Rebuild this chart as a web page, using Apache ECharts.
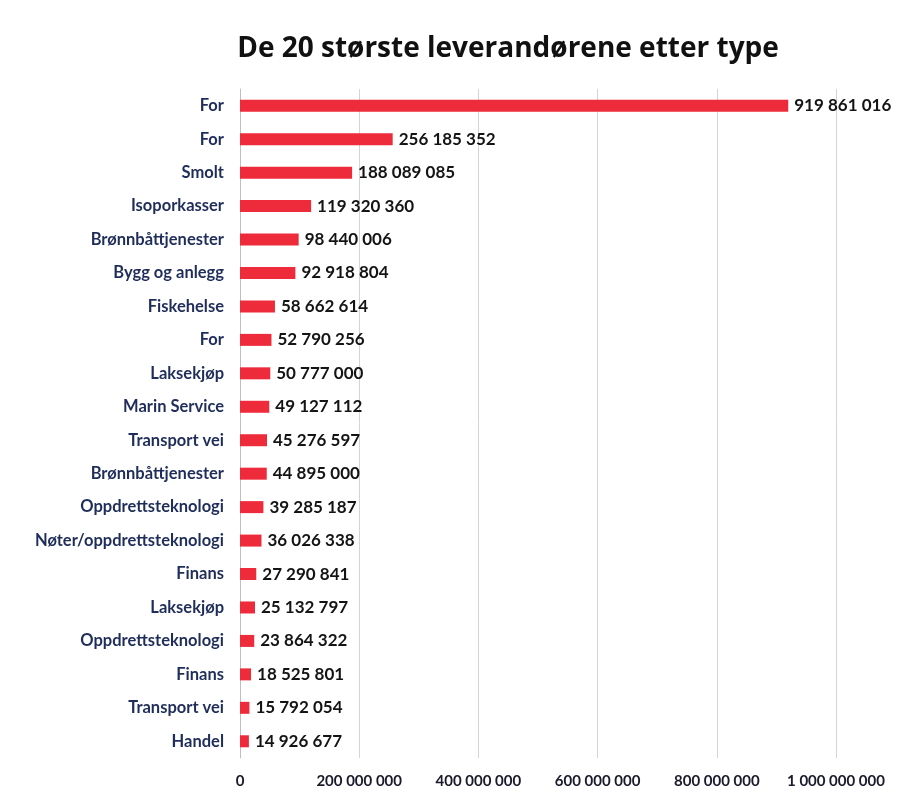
<!DOCTYPE html>
<html><head><meta charset="utf-8">
<script src="https://cdn.jsdelivr.net/npm/echarts@6/dist/echarts.min.js"></script>
<style>html,body{margin:0;padding:0;background:#fff}#c{width:910px;height:795px}</style>
</head><body><div id="c"></div>
<script>
const categories = ["For","For","Smolt","Isoporkasser","Brønnbåttjenester","Bygg og anlegg","Fiskehelse","For","Laksekjøp","Marin Service","Transport vei","Brønnbåttjenester","Oppdrettsteknologi","Nøter/oppdrettsteknologi","Finans","Laksekjøp","Oppdrettsteknologi","Finans","Transport vei","Handel"];
const values = [919861016,256185352,188089085,119320360,98440006,92918804,58662614,52790256,50777000,49127112,45276597,44895000,39285187,36026338,27290841,25132797,23864322,18525801,15792054,14926677];
const xTicks = {min:0, max:1000000000, interval:200000000};

function fmt(v){ return String(Math.round(v)).replace(/\B(?=(\d{3})+(?!\d))/g,' '); }
const fam = 'Lato,"Open Sans",sans-serif';
const chart = echarts.init(document.getElementById('c'));
chart.setOption({
  animation:false,
  title:{text:'De 20 største leverandørene etter type',left:503,top:30,textAlign:'center',
    textStyle:{fontSize:28,fontWeight:'bold',color:'#111',fontFamily:'"Open Sans",sans-serif'}},
  grid:{left:240,right:74,top:89,bottom:37,containLabel:false},
  xAxis:{type:'value',min:xTicks.min,max:xTicks.max,interval:xTicks.interval,
    axisLine:{show:false},axisTick:{show:false},
    splitLine:{show:true,lineStyle:{color:'#d4d4d4',width:1}},
    axisLabel:{margin:16,formatter:v=>fmt(v),color:'#1a1a2a',fontSize:15,fontWeight:'bold',fontFamily:fam}},
  yAxis:{type:'category',data:categories,inverse:true,
    axisLine:{show:true,lineStyle:{color:'#bfbfbf'}},axisTick:{show:false},
    axisLabel:{margin:16,color:'#1f2d5a',fontSize:16.5,fontWeight:'bold',fontFamily:fam}},
  series:[{type:'bar',data:values,barWidth:12,
    itemStyle:{color:'#ee2b3b'},
    label:{show:true,position:'right',distance:6,formatter:p=>fmt(p.value),
      color:'#141414',fontSize:17,fontWeight:'bold',fontFamily:fam}}]
});
</script></body></html>
